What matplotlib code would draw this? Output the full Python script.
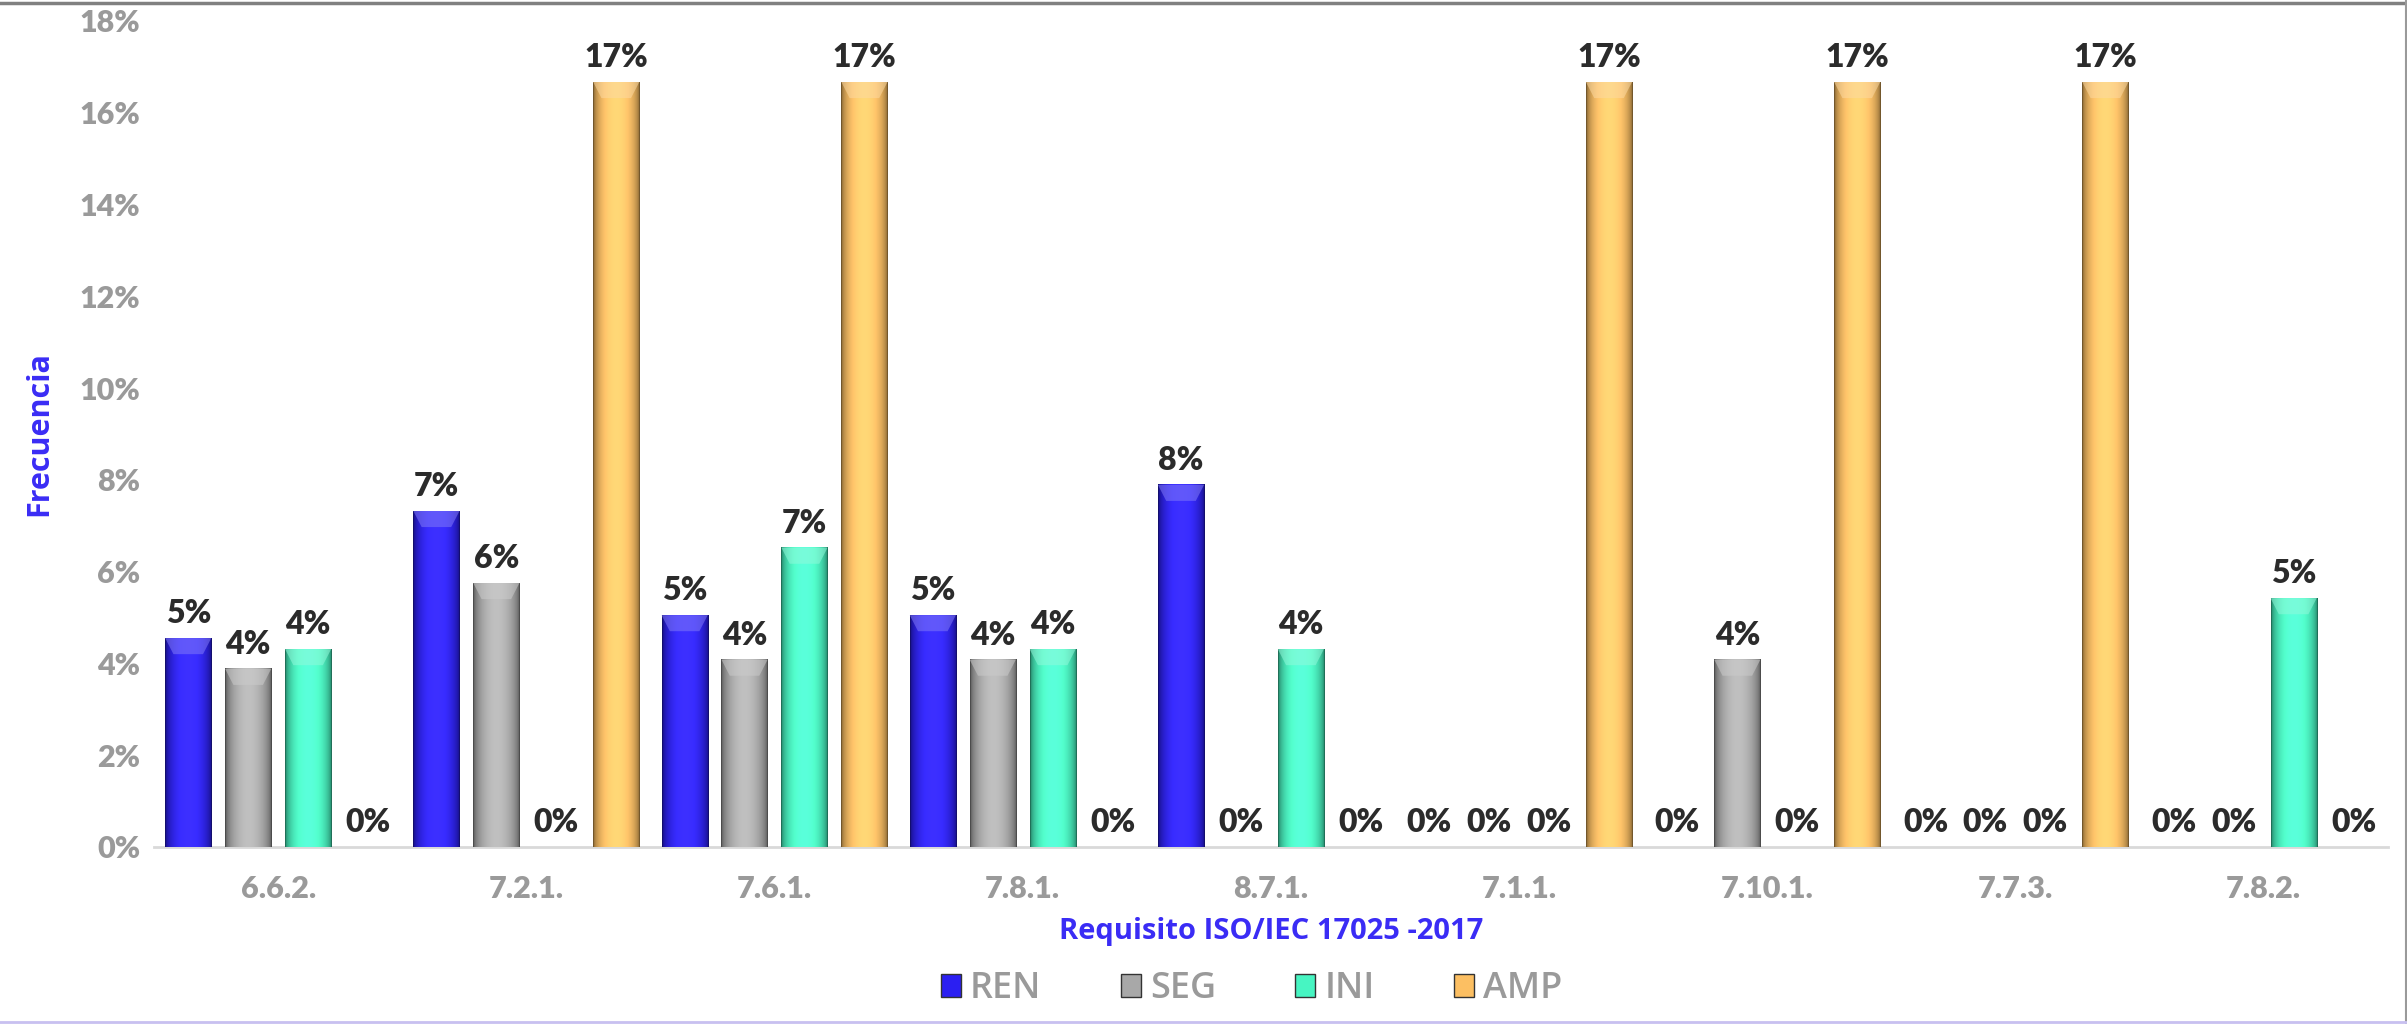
import numpy as np
import matplotlib
matplotlib.use("Agg")
import matplotlib.pyplot as plt
from matplotlib.colors import to_rgb
from matplotlib.patches import Patch, Polygon
from matplotlib.lines import Line2D

# ── Data ─────────────────────────────────────────────────────────────────────
categories = ["6.6.2.", "7.2.1.", "7.6.1.", "7.8.1.", "8.7.1.",
              "7.1.1.", "7.10.1.", "7.7.3.", "7.8.2."]
series = ["REN", "SEG", "INI", "AMP"]
ren = [4.55, 7.32, 5.05, 5.05, 7.89, 0, 0, 0, 0]
seg = [3.88, 5.75, 4.08, 4.08, 0, 0, 4.08, 0, 0]
ini = [4.31, 0, 6.52, 4.31, 4.31, 0, 0, 0, 5.42]
amp = [0, 16.67, 16.67, 0, 0, 16.67, 16.67, 16.67, 0]
values = [ren, seg, ini, amp]
yticks = [0, 2, 4, 6, 8, 10, 12, 14, 16, 18]

colors = ["#2b1ff2", "#a8a8a8", "#47f5c2", "#fcbf62"]
TICK_GREY = "#9a9a9a"
LABEL_DARK = "#2b2b2b"
BLUE = "#3a2cf5"

plt.rcParams["font.family"] = ["Lato", "DejaVu Sans"]

fig = plt.figure(figsize=(24.07, 10.24), dpi=100)
ax = fig.add_axes([0.064, 0.173, 0.928, 0.8065])

x = np.arange(len(categories))
slot = 0.2415
width = 0.186


def shaded_image(color):
    base = np.array(to_rgb(color))
    t = np.linspace(0, 1, 64)
    prof = 0.4 + 0.65 * np.sin(np.pi * t) ** 0.4
    row = np.clip(base[None, :] * prof[:, None] + 0.06 * np.sin(np.pi * t)[:, None], 0, 1)
    return row[None, :, :]


for i, (name, vals, col) in enumerate(zip(series, values, colors)):
    pos = x + (i - 1.5) * slot
    bars = ax.bar(pos, vals, width, color=col, edgecolor="none", zorder=2)
    img = shaded_image(col)
    light = np.clip(np.array(to_rgb(col)) * 0.6 + 0.4, 0, 1)
    for rect, v in zip(bars, vals):
        x0 = rect.get_x()
        w = rect.get_width()
        if v > 0:
            ax.imshow(img, extent=[x0, x0 + w, 0, v], aspect="auto",
                      interpolation="bilinear", zorder=3)
            bev = 0.35
            inset = w * 0.18
            ax.add_patch(Polygon([[x0, v], [x0 + w, v], [x0 + w - inset, v - bev],
                                  [x0 + inset, v - bev]], closed=True,
                                 facecolor=light, edgecolor="none", alpha=0.55, zorder=4))
        ax.annotate(f"{v:.0f}%", (rect.get_x() + w / 2, v), xytext=(0, 7),
                    textcoords="offset points", ha="center", va="bottom",
                    fontsize=23, fontweight="heavy", color=LABEL_DARK, zorder=5)

ax.set_xlim(-0.5, len(categories) - 0.5)
ax.set_ylim(0, 18)
ax.set_yticks(yticks)
ax.set_yticklabels([f"{t}%" for t in yticks], fontsize=22, fontweight="heavy", color=TICK_GREY)
ax.set_xticks(x)
ax.set_xticklabels(categories, fontsize=22, fontweight="heavy", color=TICK_GREY)
ax.tick_params(axis="both", length=0)
ax.tick_params(axis="x", pad=20)
ax.tick_params(axis="y", pad=10)

for s in ["top", "right", "left"]:
    ax.spines[s].set_visible(False)
ax.spines["bottom"].set_color("#d9d9d9")
ax.spines["bottom"].set_linewidth(2)

ax.set_ylabel("Frecuencia", fontsize=22, fontweight="bold", color=BLUE, labelpad=18,
              family=["Open Sans", "DejaVu Sans"])
ax.set_xlabel("Requisito ISO/IEC 17025 -2017", fontsize=21, fontweight="bold",
              color=BLUE, labelpad=10, family=["Open Sans", "DejaVu Sans"])

handles = [Patch(facecolor=c, edgecolor="#333333", linewidth=1) for c in colors]
leg = fig.legend(handles, series, loc="center", bbox_to_anchor=(0.52, 0.034), ncol=4,
                 frameon=False, fontsize=26, handlelength=0.55, handleheight=0.6,
                 handletextpad=0.25, columnspacing=2.2,
                 prop={"family": ["Open Sans", "DejaVu Sans"], "size": 26, "weight": "semibold"})
for t in leg.get_texts():
    t.set_color(TICK_GREY)

# frame lines around the picture
fig.add_artist(Line2D([0, 1], [0.997, 0.997], color="#808080", linewidth=2.5,
                      transform=fig.transFigure))
fig.add_artist(Line2D([0.9995, 0.9995], [0, 1], color="#9a9a9a", linewidth=1.5,
                      transform=fig.transFigure))
fig.add_artist(Line2D([0, 1], [0.002, 0.002], color="#c8c0f0", linewidth=2,
                      transform=fig.transFigure))

fig.savefig("out.png", dpi=100)
